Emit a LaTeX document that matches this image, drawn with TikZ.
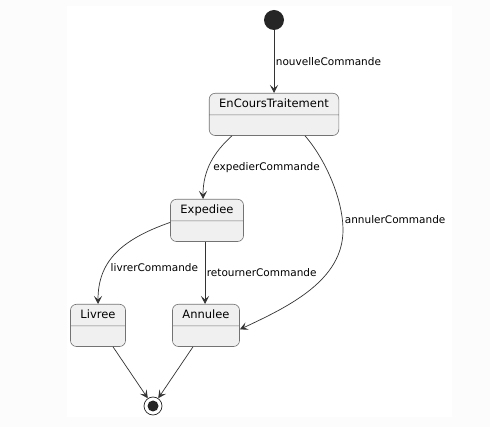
\documentclass[tikz,border=0pt]{standalone}
\usepackage{fontspec}
\setsansfont{DejaVu Sans}
\usepackage{tikz}
\usetikzlibrary{positioning, arrows.meta, shapes.multipart, calc}

\tikzset{
    state/.style={rectangle split, rectangle split parts=2, draw=black!55, line width=0.6pt,
        fill=black!6, rounded corners=6pt, inner xsep=10pt, inner ysep=4.5pt,
        text height=9pt, text depth=3pt,
        rectangle split empty part height=11pt, rectangle split empty part depth=0pt,
        font=\sffamily\fontsize{11.5}{13}\selectfont},
    trans/.style={draw=black!80, line width=0.7pt, -{Stealth[length=8pt, width=8pt, inset=3.5pt]}},
    lbl/.style={font=\sffamily\fontsize{10.5}{12}\selectfont, inner sep=1.5pt}
}

\begin{document}
\begin{tikzpicture}[x=1pt, y=-1pt]
    \useasboundingbox (0,0) rectangle (490,427);
    \fill[black!1] (0,0) rectangle (490,427);
    \fill[white] (67,6) rectangle (452,417);

    % States
    \node[state, anchor=north] (enc) at (274,93) {EnCoursTraitement};
    \node[state, anchor=north] (exp) at (207,199) {Expediee};
    \node[state, anchor=north] (liv) at (98,304) {Livree};
    \node[state, anchor=north] (ann) at (206,304) {Annulee};

    % Initial and final states
    \node[circle, fill=black!85, minimum size=20pt, inner sep=0pt] (start) at (274,20) {};
    \node[circle, draw=black!85, fill=white, line width=0.7pt, minimum size=18pt, inner sep=0pt] (stop) at (153,406) {};
    \fill[black!85] (stop.center) circle (5.5);

    % Transitions
    \draw[trans] (start) -- (enc.north)
        node[lbl, midway, right] {nouvelleCommande};
    \draw[trans] ([xshift=-42pt]enc.south) .. controls (214,152) and (203,170) .. ([xshift=-4pt]exp.north)
        node[lbl, pos=0.58, right=3pt] {expedierCommande};
    \draw[trans] ([xshift=31pt]enc.south) .. controls (326,160) and (343,200) .. (343,230)
        node[lbl, right, yshift=10pt] {annulerCommande}
        .. controls (343,280) and (290,306) .. ([yshift=-4pt]ann.east);
    \draw[trans] ([yshift=-2pt]exp.west) .. controls (120,240) and (98,262) .. (liv.north)
        node[lbl, pos=0.66, right=3pt] {livrerCommande};
    \draw[trans] ([xshift=-2pt]exp.south) -- ([xshift=-1pt]ann.north)
        node[lbl, midway, right=0pt] {retournerCommande};
    \draw[trans] ([xshift=15pt]liv.south) -- (stop);
    \draw[trans] ([xshift=-13pt]ann.south) -- (stop);
\end{tikzpicture}
\end{document}
